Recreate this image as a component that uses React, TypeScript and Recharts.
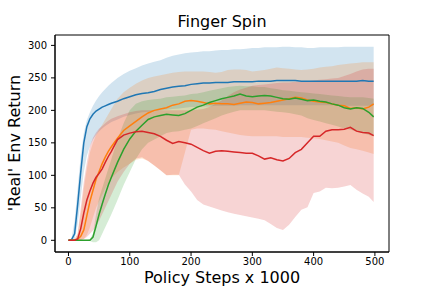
import React from "react";
import { ComposedChart, Area, Line, XAxis, YAxis, ReferenceArea } from "recharts";

const steps = [0, 5, 10, 15, 20, 25, 30, 35, 40, 45, 50, 55, 60, 65, 70, 80, 90, 100, 110, 120, 130, 140, 150, 160, 170, 180, 190, 200, 210, 220, 230, 240, 250, 260, 270, 280, 290, 300, 310, 320, 330, 340, 350, 360, 370, 380, 390, 400, 410, 420, 430, 440, 450, 460, 470, 480, 490, 498];

const blueMean = [0, 1, 10, 55, 105, 150, 175, 187, 194, 199, 202, 205, 207, 209, 211, 214, 218, 221, 224, 226, 227, 229, 232, 234, 236, 237, 238, 240, 241, 242, 242, 243, 243, 243, 244, 244, 244, 244, 245, 245, 245, 246, 246, 246, 246, 245, 245, 245, 245, 245, 245, 245, 245, 245, 245, 246, 245, 245];
const blueHigh = [0, 3, 30, 80, 130, 165, 185, 197, 207, 215, 222, 228, 233, 238, 242, 250, 256, 261, 265, 269, 272, 275, 277, 281, 284, 286, 288, 289, 290, 291, 291, 292, 293, 293, 294, 294, 295, 296, 296, 297, 297, 297, 298, 298, 297, 297, 296, 296, 297, 297, 297, 297, 298, 298, 298, 298, 298, 298];
const blueLow = [0, 0, 2, 25, 65, 105, 130, 145, 155, 162, 168, 172, 176, 179, 182, 186, 190, 193, 195, 197, 198, 199, 200, 201, 202, 203, 204, 205, 205, 206, 206, 207, 207, 207, 207, 208, 208, 208, 208, 208, 208, 208, 208, 208, 208, 208, 208, 208, 208, 208, 208, 208, 207, 207, 207, 207, 207, 207];

const orangeMean = [0, 0, 0, 2, 6, 16, 38, 60, 77, 94, 106, 118, 128, 137, 144, 157, 169, 176, 183, 190, 196, 200, 202, 204, 208, 210, 214, 215, 214, 212, 210, 211, 210, 210, 209, 211, 213, 212, 210, 211, 212, 214, 216, 218, 220, 219, 216, 214, 213, 212, 210, 208, 207, 203, 204, 202, 205, 210];
const orangeHigh = [1, 1, 2, 10, 40, 80, 110, 135, 150, 162, 170, 178, 186, 194, 202, 218, 228, 235, 241, 246, 250, 252, 254, 256, 258, 259, 260, 260, 260, 260, 259, 258, 259, 262, 263, 263, 262, 260, 261, 262, 264, 266, 265, 264, 263, 262, 263, 264, 266, 267, 268, 270, 271, 272, 273, 274, 274, 274];
const orangeLow = [0, 0, 0, 0, 0, 2, 8, 20, 35, 50, 60, 70, 80, 88, 95, 105, 112, 118, 124, 126, 122, 115, 108, 100, 100, 100, 135, 170, 172, 172, 171, 170, 168, 166, 164, 162, 161, 160, 160, 160, 160, 160, 159, 159, 159, 159, 158, 157, 156, 154, 152, 150, 146, 142, 140, 138, 135, 133];

const greenMean = [0, 0, 0, 0, 0, 0, 0, 0, 5, 22, 40, 56, 71, 85, 97, 120, 140, 156, 168, 177, 186, 190, 192, 194, 193, 192, 195, 200, 205, 208, 212, 215, 218, 220, 222, 225, 222, 221, 222, 223, 222, 220, 218, 217, 219, 217, 215, 216, 214, 213, 210, 208, 204, 202, 204, 203, 197, 190];
const greenHigh = [0, 0, 0, 0, 0, 0, 0, 2, 10, 40, 65, 80, 95, 110, 125, 155, 180, 200, 210, 214, 216, 217, 218, 220, 221, 222, 223, 225, 226, 228, 230, 232, 234, 236, 237, 238, 237, 237, 236, 236, 234, 233, 231, 230, 229, 228, 227, 226, 225, 224, 223, 222, 221, 220, 220, 220, 219, 218];
const greenLow = [0, 0, 0, 0, 0, 0, 0, -1, -3, -3, 0, 10, 20, 30, 40, 62, 85, 105, 125, 140, 150, 155, 160, 165, 167, 168, 170, 172, 176, 180, 184, 188, 192, 195, 198, 200, 200, 200, 200, 200, 199, 198, 197, 196, 194, 192, 188, 185, 183, 180, 178, 175, 172, 170, 168, 165, 162, 160];

const redMean = [0, 0, 0, 2, 18, 42, 62, 76, 88, 97, 103, 110, 120, 129, 137, 155, 162, 165, 167, 168, 166, 164, 160, 154, 149, 152, 150, 148, 143, 138, 134, 137, 138, 137, 136, 135, 134, 134, 130, 125, 127, 124, 122, 126, 135, 140, 150, 160, 160, 168, 170, 170, 171, 174, 168, 166, 165, 161];
const redHigh = [0, 0, 1, 10, 50, 90, 120, 145, 158, 166, 172, 176, 180, 184, 187, 191, 194, 197, 199, 200, 200, 200, 200, 200, 200, 200, 200, 200, 201, 202, 205, 210, 215, 222, 228, 232, 235, 238, 239, 240, 241, 242, 243, 243, 244, 244, 245, 246, 247, 248, 249, 250, 253, 256, 260, 263, 264, 264];
const redLow = [0, 0, 0, 0, 0, 2, 5, 10, 15, 22, 30, 40, 50, 60, 70, 90, 105, 118, 126, 128, 122, 115, 108, 100, 101, 101, 86, 75, 62, 55, 52, 49, 46, 43, 41, 39, 37, 35, 33, 31, 25, 19, 16, 24, 36, 47, 51, 73, 75, 81, 80, 81, 83, 85, 78, 72, 67, 59];

const xTicks = [0, 100, 200, 300, 400, 500];
const yTicks = [0, 50, 100, 150, 200, 250, 300];
const xDomain = [-22, 523];
const yDomain = [-18, 316];

const BLUE = "#1f77b4";
const ORANGE = "#ff7f0e";
const GREEN = "#2ca02c";
const RED = "#d62728";

const data = steps.map((x, i) => ({
  x,
  blue: blueMean[i],
  blueBand: [blueLow[i], blueHigh[i]],
  orange: orangeMean[i],
  orangeBand: [orangeLow[i], orangeHigh[i]],
  green: greenMean[i],
  greenBand: [greenLow[i], greenHigh[i]],
  red: redMean[i],
  redBand: [redLow[i], redHigh[i]],
}));

const FONT = "DejaVu Sans";
const tickStyle = { fontFamily: FONT, fontSize: 10, fill: "#000" };

export default function App() {
  const series = [
    { key: "blue", color: BLUE },
    { key: "orange", color: ORANGE },
    { key: "green", color: GREEN },
    { key: "red", color: RED },
  ];
  return (
    <div style={{ position: "absolute", left: 0, top: 0, width: 432, height: 288, background: "#fff", fontFamily: FONT }}>
      <ComposedChart
        width={432}
        height={288}
        data={data}
        margin={{ top: 35, right: 43, bottom: 11, left: 10 }}
      >
        <XAxis
          dataKey="x"
          type="number"
          domain={xDomain}
          ticks={xTicks}
          tickSize={4}
          tickMargin={2}
          height={25}
          stroke="#000"
          tick={tickStyle}
          allowDataOverflow
        />
        <YAxis
          type="number"
          domain={yDomain}
          ticks={yTicks}
          tickSize={4}
          tickMargin={4}
          width={45}
          stroke="#000"
          tick={tickStyle}
          allowDataOverflow
        />
        {series.flatMap((s) => [
          <Area
            key={s.key + "Band"}
            dataKey={s.key + "Band"}
            type="linear"
            stroke="none"
            fill={s.color}
            fillOpacity={0.2}
            isAnimationActive={false}
            dot={false}
            activeDot={false}
          />,
          <Line
            key={s.key}
            dataKey={s.key}
            type="linear"
            stroke={s.color}
            strokeWidth={1.5}
            dot={false}
            activeDot={false}
            isAnimationActive={false}
          />,
        ])}
        <ReferenceArea
          x1={xDomain[0]}
          x2={xDomain[1]}
          y1={yDomain[0]}
          y2={yDomain[1]}
          fill="none"
          fillOpacity={0}
          stroke="#000"
          strokeWidth={1}
          ifOverflow="visible"
        />
      </ComposedChart>
      <div style={{ position: "absolute", left: 55, width: 334, top: 12, textAlign: "center", fontSize: 16, lineHeight: "20px", color: "#000" }}>
        Finger Spin
      </div>
      <div style={{ position: "absolute", left: 55, width: 334, top: 268, textAlign: "center", fontSize: 16, lineHeight: "20px", color: "#000" }}>
        Policy Steps x 1000
      </div>
      <div
        style={{
          position: "absolute",
          left: 15 - 100,
          top: 143 - 10,
          width: 200,
          height: 20,
          lineHeight: "20px",
          textAlign: "center",
          fontSize: 16,
          color: "#000",
          transform: "rotate(-90deg)",
          transformOrigin: "50% 50%",
          whiteSpace: "nowrap",
        }}
      >
        'Real' Env Return
      </div>
    </div>
  );
}
